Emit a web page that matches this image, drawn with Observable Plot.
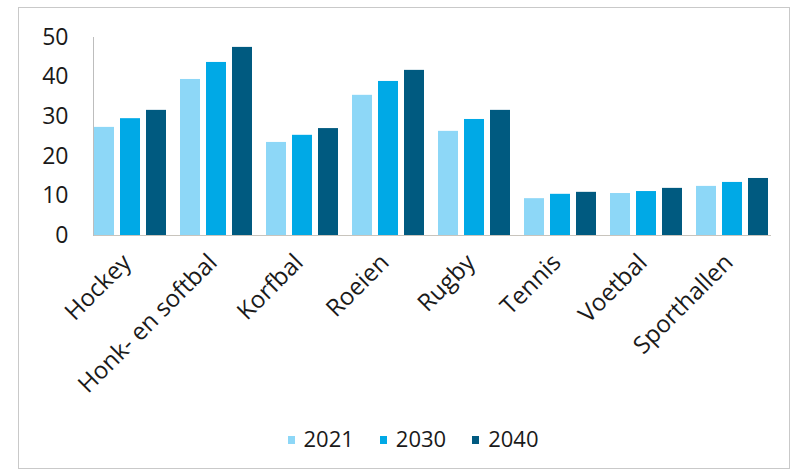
<!DOCTYPE html>
<html>
<head>
<meta charset="utf-8">
<script src="https://cdn.jsdelivr.net/npm/d3@7"></script>
<script src="https://cdn.jsdelivr.net/npm/@observablehq/plot@0.6"></script>
<style>
  html, body { margin: 0; padding: 0; background: #fff; }
  body { width: 800px; height: 475px; position: relative; overflow: hidden; font-family: "Open Sans", sans-serif; }
  #frame { position: absolute; left: 18px; top: 7px; width: 772px; height: 462px; border: 1px solid #c9c9c9; box-sizing: border-box; }
  #chart { position: absolute; left: 0; top: 0; }
  #legend { position: absolute; left: 0; top: 423px; width: 800px; display: flex; justify-content: center; padding-left: 26px; box-sizing: border-box; font-size: 22px; color: #1a1a1a; }
  .item { display: flex; align-items: center; margin: 0 13px; }
  .sw { width: 7px; height: 8px; margin-right: 9px; margin-top: 4px; }
</style>
</head>
<body>
<div id="frame"></div>
<div id="chart"></div>
<div id="legend"></div>
<script>
const categories = ["Hockey", "Honk- en softbal", "Korfbal", "Roeien", "Rugby", "Tennis", "Voetbal", "Sporthallen"];
const years = ["2021", "2030", "2040"];
const values2021 = [27.3, 39.4, 23.5, 35.4, 26.3, 9.3, 10.6, 12.4];
const values2030 = [29.5, 43.7, 25.3, 38.9, 29.3, 10.4, 11.1, 13.4];
const values2040 = [31.6, 47.5, 27.0, 41.7, 31.6, 10.9, 11.9, 14.4];
const yTicks = [0, 10, 20, 30, 40, 50];
const colors = ["#8dd7f7", "#00a9e6", "#005a80"];

const series = [values2021, values2030, values2040];
const data = [];
categories.forEach((c, i) => years.forEach((y, j) => data.push({category: c, year: y, value: series[j][i]})));

const chart = Plot.plot({
  width: 800,
  height: 420,
  marginLeft: 86,
  marginRight: 24,
  marginTop: 37,
  marginBottom: 185,
  style: {fontFamily: "'Open Sans', sans-serif", fontSize: "22px", color: "#1a1a1a", background: "transparent"},
  fx: {domain: categories, paddingInner: 0.13, paddingOuter: 0.06, label: null, axis: null},
  x: {domain: years, paddingInner: 0.22, paddingOuter: 0, axis: null},
  y: {domain: [0, 50], label: null},
  color: {domain: years, range: colors},
  marks: [
    Plot.barY(data, {fx: "category", x: "year", y: "value", fill: "year"}),
    Plot.axisY(yTicks, {tickSize: 0, tickPadding: 25, fontSize: 23, label: null}),
    Plot.axisFx({anchor: "bottom", tickRotate: -45, tickSize: 0, tickPadding: 23, dx: -4, fontSize: 24, label: null}),
    Plot.frame({anchor: "bottom", stroke: "#c8c4bd", facet: "super"}),
    Plot.frame({anchor: "left", stroke: "#bdbdbd", facet: "super"})
  ]
});
document.getElementById("chart").appendChild(chart);

const legend = document.getElementById("legend");
years.forEach((y, j) => {
  const it = document.createElement("div");
  it.className = "item";
  const sw = document.createElement("span");
  sw.className = "sw";
  sw.style.background = colors[j];
  const t = document.createElement("span");
  t.textContent = y;
  it.appendChild(sw);
  it.appendChild(t);
  legend.appendChild(it);
});
</script>
</body>
</html>
